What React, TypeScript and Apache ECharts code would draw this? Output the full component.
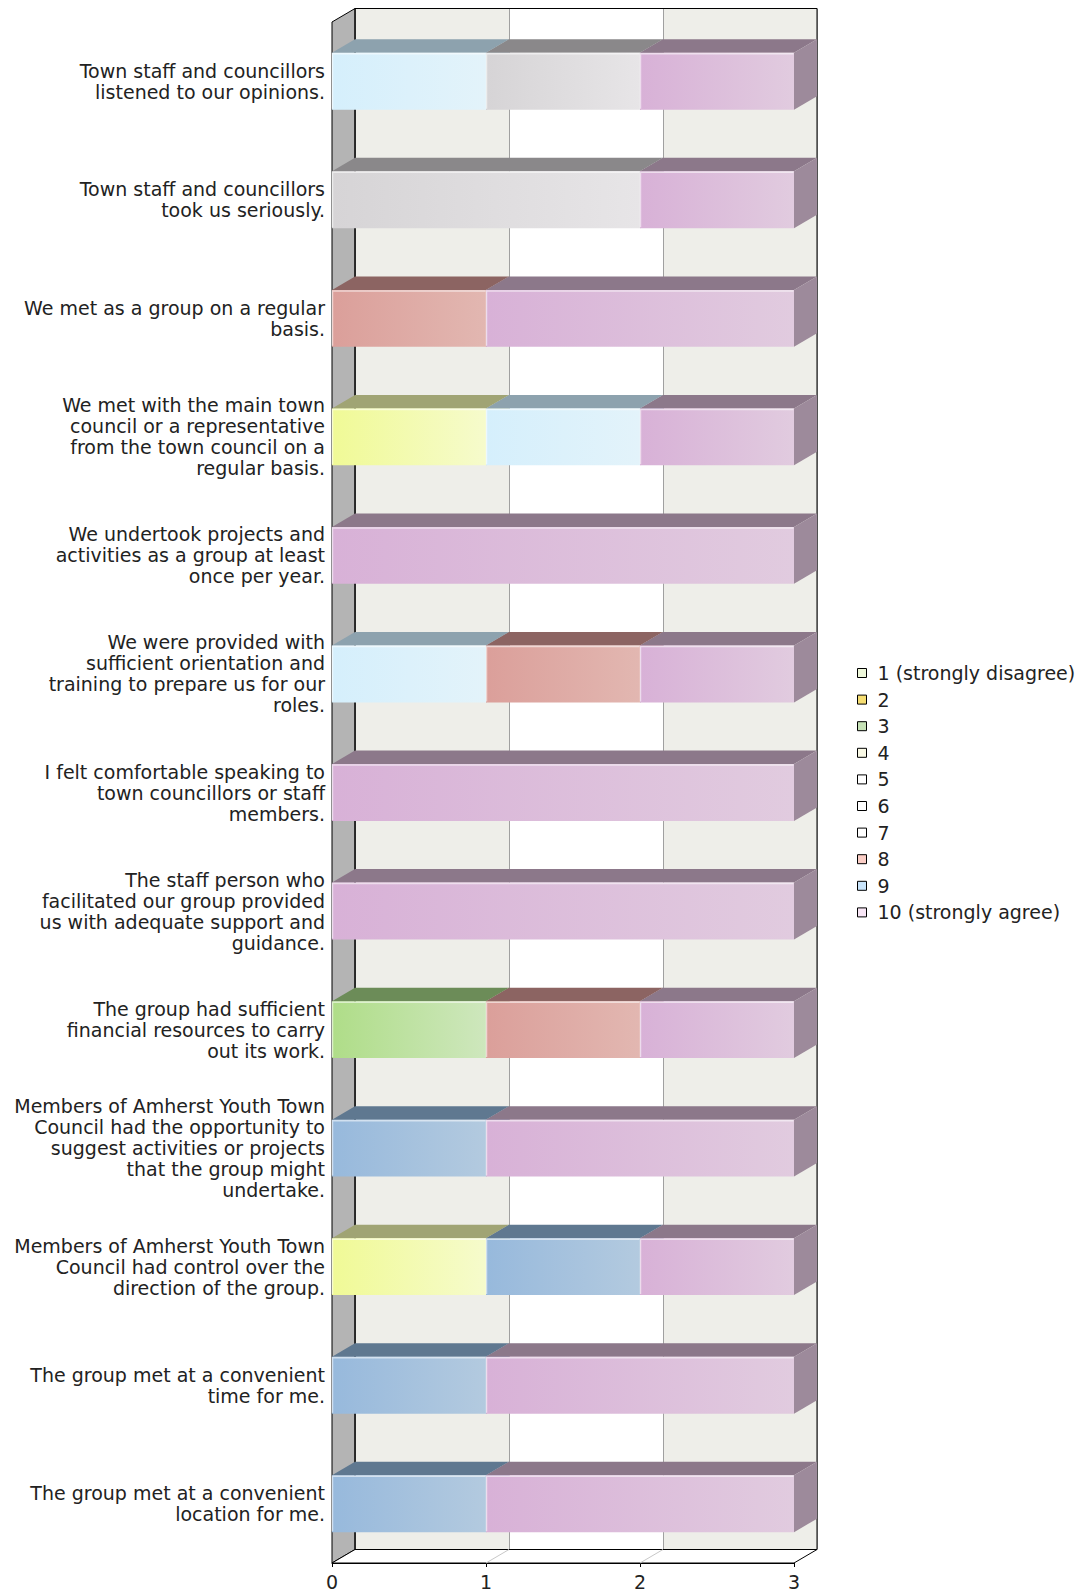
import React, { useEffect, useRef } from "react";
import * as echarts from "echarts";

const categories: string[] = [
  "Town staff and councillors\nlistened to our opinions.",
  "Town staff and councillors\ntook us seriously.",
  "We met as a group on a regular\nbasis.",
  "We met with the main town\ncouncil or a representative\nfrom the town council on a\nregular basis.",
  "We undertook projects and\nactivities as a group at least\nonce per year.",
  "We were provided with\nsufficient orientation and\ntraining to prepare us for our\nroles.",
  "I felt comfortable speaking to\ntown councillors or staff\nmembers.",
  "The staff person who\nfacilitated our group provided\nus with adequate support and\nguidance.",
  "The group had sufficient\nfinancial resources to carry\nout its work.",
  "Members of Amherst Youth Town\nCouncil had the opportunity to\nsuggest activities or projects\nthat the group might\nundertake.",
  "Members of Amherst Youth Town\nCouncil had control over the\ndirection of the group.",
  "The group met at a convenient\ntime for me.",
  "The group met at a convenient\nlocation for me.",
];

const levelNames: string[] = [
  "1 (strongly disagree)", "2", "3", "4", "5", "6", "7", "8", "9", "10 (strongly agree)",
];

const r1: number[] = [0, 0, 0, 0, 0, 0, 0, 0, 0, 0, 0, 0, 0];
const r2: number[] = [0, 0, 0, 1, 0, 0, 0, 0, 0, 0, 1, 0, 0];
const r3: number[] = [0, 0, 0, 0, 0, 0, 0, 0, 1, 0, 0, 0, 0];
const r4: number[] = [0, 0, 0, 0, 0, 0, 0, 0, 0, 0, 0, 0, 0];
const r5: number[] = [0, 0, 0, 0, 0, 0, 0, 0, 0, 0, 0, 0, 0];
const r6: number[] = [1, 0, 0, 1, 0, 1, 0, 0, 0, 0, 0, 0, 0];
const r7: number[] = [1, 2, 0, 0, 0, 0, 0, 0, 0, 0, 0, 0, 0];
const r8: number[] = [0, 0, 1, 0, 0, 1, 0, 0, 1, 0, 0, 0, 0];
const r9: number[] = [0, 0, 0, 0, 0, 0, 0, 0, 0, 1, 1, 1, 1];
const r10: number[] = [1, 1, 2, 1, 3, 1, 3, 3, 1, 2, 1, 2, 2];
const levelValues: number[][] = [r1, r2, r3, r4, r5, r6, r7, r8, r9, r10];

const xTicks: number[] = [0, 1, 2, 3];

// legend swatch colours
const legendColors: string[] = [
  "#eef8da", "#f6de72", "#c6e2b6", "#fafae6", "#ffffff",
  "#ffffff", "#ffffff", "#fbcec6", "#c8e4fb", "#f8e6f6",
];
// bar face colours [left, right, top, side]
const barColors: string[][] = [
  ["#e6f4cc", "#eef8dc", "#8c9478", "#9aa286"],
  ["#f0fa96", "#f6fbcc", "#a0a474", "#aeb282"],
  ["#afdd88", "#cee7bd", "#6c8c58", "#7a9a66"],
  ["#f2f2dc", "#f8f8ea", "#9a9a88", "#a8a896"],
  ["#eeeeee", "#f6f6f6", "#999999", "#a6a6a6"],
  ["#d5effc", "#e3f3fa", "#8da2ae", "#9bb0bc"],
  ["#d6d4d6", "#e7e5e7", "#8a888a", "#989698"],
  ["#db9f9a", "#e2b7b1", "#8c6462", "#9a7270"],
  ["#97b9dc", "#b3cadf", "#5f7890", "#6d869e"],
  ["#d8b1d7", "#e1cbdf", "#8c788a", "#9d8a9b"],
];

const GL = 332, GT = 22, GW = 462, GH = 1541;
const DX = 23, DY = 13.5;
const BAR_RATIO = 0.48;
const FONT = "DejaVu Sans";
const FS = 19;

export default function App() {
  const ref = useRef<HTMLDivElement>(null);
  useEffect(() => {
    if (!ref.current) return;
    const chart = echarts.init(ref.current, undefined, { renderer: "svg" });

    const cum = categories.map(() => 0);
    const barSeries: any[] = levelValues.map((vals, k) => {
      const data: number[][] = [];
      vals.forEach((v, i) => {
        if (v > 0) {
          data.push([i, cum[i], cum[i] + v]);
          cum[i] += v;
        }
      });
      const c = barColors[k];
      return {
        type: "custom",
        name: levelNames[k],
        xAxisIndex: 0,
        yAxisIndex: 0,
        z: 3,
        encode: { x: [1, 2], y: 0 },
        data,
        renderItem: (params: any, api: any) => {
          const cat = api.value(0);
          const p0 = api.coord([api.value(1), cat]);
          const p1 = api.coord([api.value(2), cat]);
          const band = api.size([0, 1])[1];
          const h = band * BAR_RATIO;
          const y0 = p0[1] - h / 2;
          const x0 = p0[0];
          const x1 = p1[0];
          return {
            type: "group",
            children: [
              {
                type: "polygon",
                shape: { points: [[x0, y0], [x1, y0], [x1 + DX, y0 - DY], [x0 + DX, y0 - DY]] },
                style: { fill: c[2] },
              },
              {
                type: "polygon",
                shape: { points: [[x1, y0], [x1 + DX, y0 - DY], [x1 + DX, y0 + h - DY], [x1, y0 + h]] },
                style: { fill: c[3] },
              },
              {
                type: "rect",
                shape: { x: x0, y: y0, width: x1 - x0, height: h },
                style: {
                  fill: new echarts.graphic.LinearGradient(0, 0, 1, 0, [
                    { offset: 0, color: c[0] },
                    { offset: 1, color: c[1] },
                  ]),
                },
              },
              {
                type: "polyline",
                shape: { points: [[x0 + 0.5, y0 + h - 1], [x0 + 0.5, y0 + 1], [x1 - 0.5, y0 + 1]] },
                style: { stroke: "rgba(255,255,255,0.55)", lineWidth: 1.5, fill: "none" },
              },
            ],
          };
        },
      };
    });

    const floorLines = {
      type: "custom",
      name: "floor",
      xAxisIndex: 0,
      yAxisIndex: 0,
      z: 2,
      silent: true,
      encode: { x: 0, y: 1 },
      data: xTicks.slice(1, -1).map((t) => [t, 0]),
      renderItem: (params: any, api: any) => {
        const x = api.coord([api.value(0), 0])[0];
        const yb = params.coordSys.y + params.coordSys.height;
        return {
          type: "line",
          shape: { x1: x, y1: yb, x2: x + DX, y2: yb - DY },
          style: { stroke: "#c8c8c8", lineWidth: 1 },
        };
      },
    };

    chart.setOption({
      animation: false,
      backgroundColor: "#ffffff",
      textStyle: { fontFamily: FONT },
      grid: [
        { left: GL, top: GT, width: GW, height: GH, containLabel: false },
        { left: GL + DX, top: GT - DY, width: GW, height: GH, containLabel: false },
      ],
      xAxis: [
        {
          type: "value",
          gridIndex: 0,
          min: 0,
          max: 3,
          interval: 1,
          position: "bottom",
          axisLine: { show: true, lineStyle: { color: "#000", width: 1 } },
          axisTick: { show: true, length: 4, lineStyle: { color: "#000" } },
          axisLabel: { show: true, fontSize: FS, color: "#222", margin: 9, fontFamily: FONT },
          splitLine: { show: false },
        },
        {
          type: "value",
          gridIndex: 1,
          min: 0,
          max: 3,
          interval: 1,
          axisLine: { show: false },
          axisTick: { show: false },
          axisLabel: { show: false },
          splitLine: { show: true, lineStyle: { color: "#a0a0a0", width: 1 } },
          splitArea: { show: true, areaStyle: { color: ["#eeeee9", "#ffffff"] } },
        },
      ],
      yAxis: [
        {
          type: "category",
          gridIndex: 0,
          data: categories,
          inverse: true,
          axisLine: { show: false },
          axisTick: { show: false },
          splitLine: { show: false },
          axisLabel: {
            show: true,
            fontSize: FS,
            lineHeight: 21,
            color: "#222",
            margin: 7,
            align: "right",
            fontFamily: FONT,
          },
        },
        {
          type: "value",
          gridIndex: 1,
          show: false,
          min: 0,
          max: 1,
          splitLine: { show: false },
        },
      ],
      legend: {
        orient: "vertical",
        left: 852,
        top: 658.5,
        itemWidth: 9,
        itemHeight: 9,
        itemGap: 7.6,
        icon: "rect",
        selectedMode: false,
        textStyle: { fontSize: FS, color: "#222", fontFamily: FONT, padding: [0, 0, 0, 6] },
        data: levelNames.map((n, k) => ({
          name: n,
          icon: "rect",
          itemStyle: { color: legendColors[k], borderColor: "#000", borderWidth: 1 },
        })),
      },
      graphic: [
        {
          type: "polygon",
          z: 1,
          silent: true,
          shape: { points: [[GL, GT], [GL + DX, GT - DY], [GL + DX, GT + GH - DY], [GL, GT + GH]] },
          style: { fill: "#b4b4b4", stroke: "#000", lineWidth: 1 },
        },
        {
          type: "polygon",
          z: 1,
          silent: true,
          shape: {
            points: [[GL, GT + GH], [GL + DX, GT + GH - DY], [GL + GW + DX, GT + GH - DY], [GL + GW, GT + GH]],
          },
          style: { fill: "#ffffff", stroke: "#000", lineWidth: 1 },
        },
        {
          type: "rect",
          z: 1,
          silent: true,
          shape: { x: GL + DX, y: GT - DY, width: GW, height: GH },
          style: { fill: "none", stroke: "#000", lineWidth: 1 },
        },
      ],
      series: [...barSeries, floorLines],
    });
    return () => chart.dispose();
  }, []);
  return (
    <div
      ref={ref}
      style={{ position: "absolute", left: 0, top: 0, width: 1080, height: 1594 }}
    />
  );
}
